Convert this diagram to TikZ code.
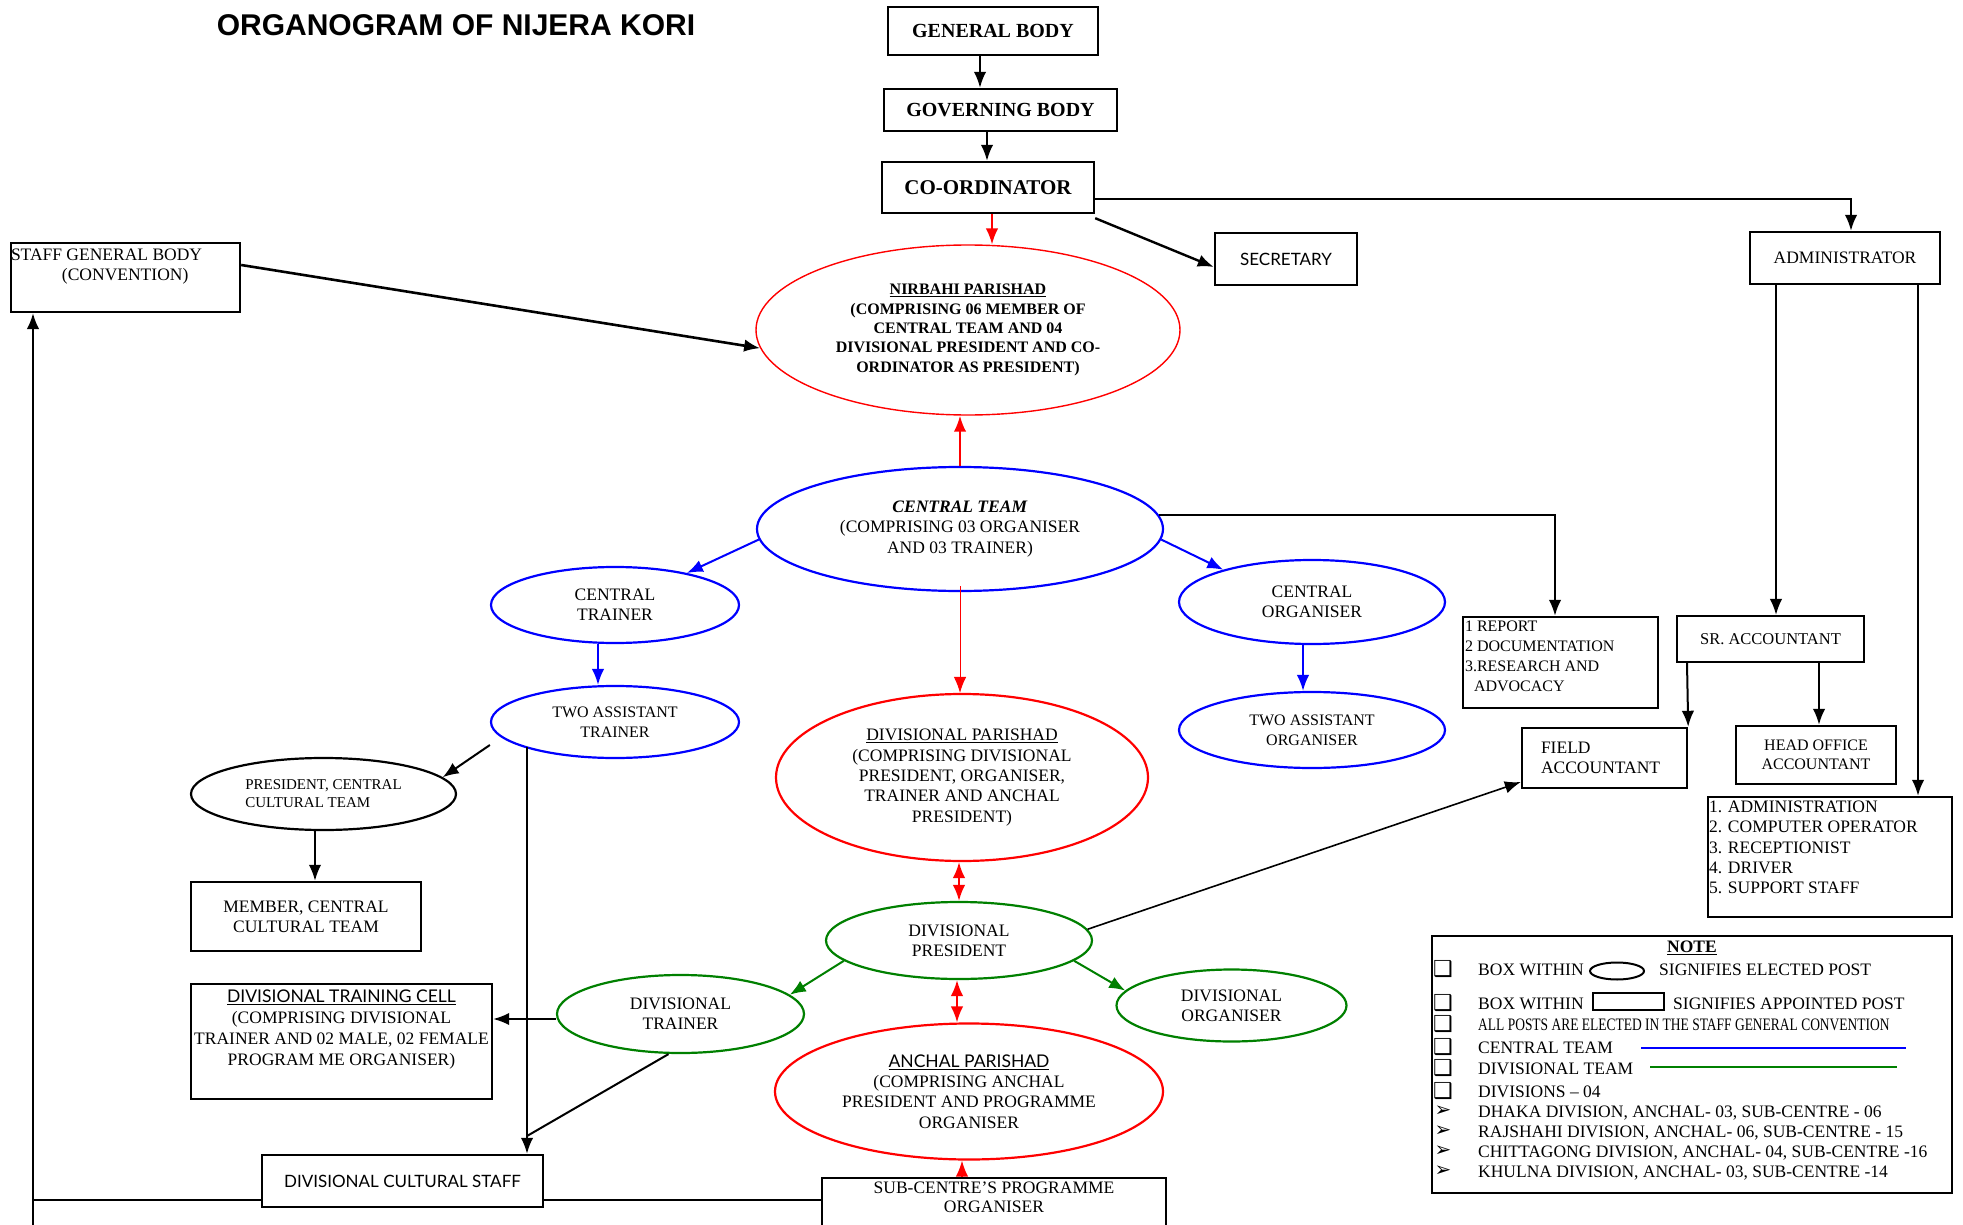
\documentclass[tikz,border=0pt]{standalone}
\usepackage{fontspec}
\setmainfont{Liberation Serif}
\newfontfamily\titlefont{Liberation Sans}
\newfontfamily\decofont{Lato}
\newfontfamily\symfont{DejaVu Sans}
\usetikzlibrary{shapes.geometric, arrows.meta}
\definecolor{ctblue}{RGB}{0,0,255}
\definecolor{dvgreen}{RGB}{0,128,0}
\tikzset{post/.style = {draw, rectangle, line width=2.4pt, fill=white, inner sep=0pt, align=center, font=\fontsize{17.5}{20.3}\selectfont}}
\tikzset{headpost/.style = {post, font=\bfseries\fontsize{20}{24}\selectfont}}
\tikzset{elected/.style = {draw, ellipse, line width=2.2pt, fill=white, inner sep=0pt, align=center, font=\fontsize{17.5}{20.3}\selectfont}}
\tikzset{central/.style = {elected, draw=ctblue}}
\tikzset{divisional/.style = {elected, draw=dvgreen}}
\tikzset{parishad/.style = {elected, draw=red}}
\tikzset{inner/.style = {inner sep=0pt, align=left, font=\fontsize{17.5}{20.3}\selectfont}}
\tikzset{link/.style = {->, line width=2pt}}
\tikzset{redlink/.style = {->, line width=1.6pt, red}}
\tikzset{redboth/.style = {<->, line width=2pt, red}}
\tikzset{bluelink/.style = {->, line width=2pt, ctblue}}
\tikzset{greenlink/.style = {->, line width=2pt, dvgreen}}
\tikzset{notetext/.style = {anchor=base west, inner sep=0pt, font=\fontsize{17.5}{20}\selectfont}}

\begin{document}
\begin{tikzpicture}[x=1pt, y=-1pt, >={Latex[length=16pt,width=12.5pt]}]
  \useasboundingbox (0,0) rectangle (1963,1225);
  \fill[white] (0,0) rectangle (1963,1225);

  \node [font=\titlefont\bfseries\fontsize{30}{34}\selectfont, inner sep=0pt] (title) at (456,25) {ORGANOGRAM OF NIJERA KORI};

  \node [headpost, minimum width=210pt, minimum height=48pt] (gb) at (993,31) {GENERAL BODY};
  \node [headpost, minimum width=233pt, minimum height=42pt] (gov) at (1000.5,110) {GOVERNING BODY};
  \node [headpost, minimum width=212pt, minimum height=51pt, font=\bfseries\fontsize{21}{24}\selectfont] (coord) at (988,187.5) {CO-ORDINATOR};
  \node [post, minimum width=142pt, minimum height=52pt, font=\decofont\fontsize{17}{20}\selectfont] (sec) at (1286,259) {SECRETARY};
  \node [post, minimum width=190pt, minimum height=52pt] (adm) at (1845,258) {ADMINISTRATOR};
  \node [post, minimum width=229pt, minimum height=69pt] (sgb) at (125.5,277.5) {};
  \node [inner, anchor=north west] (sgbtext) at ([xshift=1pt,yshift=-7pt]sgb.north west) {STAFF GENERAL BODY\\\hspace*{51pt}(CONVENTION)};

  \node [parishad, line width=1.4pt, minimum width=424pt, minimum height=170pt, font=\bfseries\fontsize{16}{19.3}\selectfont] (nirbahi) at (968,330)
    {\underline{NIRBAHI PARISHAD}\\(COMPRISING 06 MEMBER OF\\CENTRAL TEAM AND 04\\DIVISIONAL PRESIDENT AND CO-\\ORDINATOR AS PRESIDENT)};
  \node [central, minimum width=406pt, minimum height=124pt] (ct) at (960,529)
    {\textbf{\textit{CENTRAL TEAM}}\\(COMPRISING 03 ORGANISER\\AND 03 TRAINER)};
  \node [central, minimum width=248pt, minimum height=76pt] (ctr) at (615,605) {CENTRAL\\TRAINER};
  \node [central, minimum width=248pt, minimum height=72pt, font=\fontsize{16}{20}\selectfont] (tat) at (615,722) {TWO ASSISTANT\\TRAINER};
  \node [central, minimum width=266pt, minimum height=84pt] (co) at (1312,602) {CENTRAL\\ORGANISER};
  \node [central, minimum width=266pt, minimum height=76pt, font=\fontsize{16}{20}\selectfont] (tao) at (1312,730) {TWO ASSISTANT\\ORGANISER};

  \node [post, minimum width=195pt, minimum height=91pt] (rep) at (1560.5,662.5) {};
  \node [inner, anchor=north west, font=\fontsize{16}{20}\selectfont] (reptext) at ([xshift=3pt,yshift=-5pt]rep.north west) {1 REPORT\\2 DOCUMENTATION\\3.RESEARCH AND\\\hspace*{9pt}ADVOCACY};
  \node [post, minimum width=187pt, minimum height=46pt, font=\fontsize{16.5}{20}\selectfont] (sr) at (1770.5,639) {SR. ACCOUNTANT};
  \node [post, minimum width=165pt, minimum height=60pt] (fa) at (1604.5,758) {};
  \node [inner, anchor=west] (fatext) at ([xshift=20pt]fa.west) {FIELD\\ACCOUNTANT};
  \node [post, minimum width=160pt, minimum height=58pt, font=\fontsize{16}{19}\selectfont] (hoa) at (1816,755) {HEAD OFFICE\\ACCOUNTANT};
  \node [post, minimum width=244pt, minimum height=120pt] (list) at (1830,857) {};
  \node [inner, anchor=north west] (listtext) at ([xshift=2pt,yshift=-5pt]list.north west) {1. ADMINISTRATION\\2. COMPUTER OPERATOR\\3. RECEPTIONIST\\4. DRIVER\\5. SUPPORT STAFF};

  \node [parishad, minimum width=372pt, minimum height=167pt] (dp) at (962,777.5)
    {\underline{DIVISIONAL PARISHAD}\\(COMPRISING DIVISIONAL\\PRESIDENT, ORGANISER,\\TRAINER AND ANCHAL\\PRESIDENT)};
  \node [elected, minimum width=265pt, minimum height=72pt, font=\fontsize{15}{18}\selectfont, align=left] (pcct) at (323.5,794) {PRESIDENT, CENTRAL\\CULTURAL TEAM};
  \node [post, minimum width=230pt, minimum height=69pt] (mcct) at (306,916.5) {MEMBER, CENTRAL\\CULTURAL TEAM};
  \node [post, minimum width=301pt, minimum height=115pt] (dtc) at (341.5,1041.5) {};
  \node [inner, anchor=north, align=center, font=\fontsize{17.5}{21}\selectfont] (dtctext) at ([yshift=-7pt]dtc.north)
    {{\decofont\underline{DIVISIONAL TRAINING CELL}}\\(COMPRISING DIVISIONAL\\TRAINER AND 02 MALE, 02 FEMALE\\PROGRAM ME ORGANISER)};

  \node [divisional, minimum width=266pt, minimum height=77pt] (dpres) at (959,940.5) {DIVISIONAL\\PRESIDENT};
  \node [divisional, minimum width=247pt, minimum height=78pt] (dtr) at (680.5,1014) {DIVISIONAL\\TRAINER};
  \node [divisional, minimum width=230pt, minimum height=72pt] (dorg) at (1231.5,1005.5) {DIVISIONAL\\ORGANISER};
  \node [parishad, minimum width=388pt, minimum height=136pt] (anchal) at (969,1091.5)
    {{\decofont\underline{ANCHAL PARISHAD}}\\(COMPRISING ANCHAL\\PRESIDENT AND PROGRAMME\\ORGANISER};

  \node [post, minimum width=281pt, minimum height=52pt, font=\decofont\fontsize{17}{20}\selectfont] (dcs) at (402.5,1181) {DIVISIONAL CULTURAL STAFF};
  \node [post, minimum width=344pt, minimum height=50pt] (sub) at (994,1203) {};
  \node [inner, anchor=north, align=center, font=\fontsize{17.5}{19}\selectfont] (subtext) at ([yshift=-5pt]sub.north) {SUB-CENTRE'S PROGRAMME\\ORGANISER};

  \coordinate (loopcorner) at (33,1200);
  \coordinate (loopend) at (33,1225);
  \coordinate (drop) at (527,747);
  \coordinate (join) at (527,1136);

  \path[link] ([xshift=-13pt]gb.south) edge ([xshift=-13pt]gb.south |- gov.north);
  \path[link] ([xshift=-13.5pt]gov.south) edge ([xshift=-13.5pt]gov.south |- coord.north);
  \path[redlink] ([xshift=4pt]coord.south) edge ([xshift=4pt]coord.south |- nirbahi.north);
  \path[link, line width=2.4pt] ([yshift=-4pt]coord.south east) edge ([yshift=-8pt]sec.west);
  \draw[link] ([yshift=-11.5pt]coord.east) -| ([xshift=6pt]adm.north);
  \path[link, line width=2.6pt] ([yshift=12.5pt]sgb.east) edge (nirbahi.185);
  \draw[line width=2pt] (loopcorner) -- (loopcorner -| dcs.west);
  \draw[line width=2pt] (loopcorner -| dcs.east) -- (loopcorner -| sub.west);
  \draw[link, line width=1.8pt] (loopend) -- (loopend |- sgb.south);

  \path[redlink, line width=2pt] (ct.north) edge (ct.north |- nirbahi.south);
  \path[redlink, line width=1pt] ([yshift=6pt]ct.south) edge (ct.south |- dp.north);
  \path[bluelink] (ct.183) edge (ctr.24);
  \path[bluelink] (ct.357) edge (co.160);
  \draw[link] (ct.4) -| ([xshift=-5.5pt]rep.north);
  \path[bluelink] ([xshift=-17pt]ctr.south) edge ([xshift=-17pt]ctr.south |- tat.north);
  \path[bluelink] ([xshift=-9pt]co.south) edge ([xshift=-9pt]co.south |- tao.north);

  \path[link] ([yshift=-23pt]tat.west) edge (pcct.8);
  \draw[link] (drop) -- (drop |- dcs.north);
  \draw[line width=2pt] ([xshift=-12pt]dtr.south) -- (join);
  \path[link] ([yshift=-5pt]dtr.west) edge ([yshift=-5pt]dtr.west -| dtc.east);
  \path[link] ([xshift=-8.5pt]pcct.south) edge ([xshift=-8.5pt]pcct.south |- mcct.north);

  \path[redboth] ([xshift=-3pt]dp.south) edge ([xshift=-3pt]dp.south |- dpres.north);
  \path[redboth] ([xshift=-2pt]dpres.south) edge ([xshift=-2pt]dpres.south |- anchal.north);
  \path[redlink] ([xshift=-32pt]sub.north) edge ([xshift=-32pt]sub.north |- anchal.south);
  \path[greenlink] (dpres.190) edge (dtr.10);
  \path[greenlink] (dpres.350) edge (dorg.172);
  \path[link, line width=1.6pt] (dpres.5) edge ([yshift=-24pt]fa.west);

  \path[link, line width=1.6pt] ([xshift=-69pt]adm.south) edge ([xshift=-69pt]adm.south |- sr.north);
  \path[link] ([xshift=73pt]adm.south) edge ([xshift=73pt]adm.south |- list.north);
  \path[link] ([xshift=-83.5pt]sr.south) edge (fa.north east);
  \path[link] ([xshift=48.5pt]sr.south) edge ([xshift=48.5pt]sr.south |- hoa.north);

  \node [post, minimum width=520pt, minimum height=257pt] (note) at (1692,1064.5) {};
  \node [inner, font=\bfseries\fontsize{17.5}{20}\selectfont] (notehead) at (1692,948) {\underline{NOTE}};
  \foreach \y/\t [count=\i] in {969/{BOX WITHIN}, 1003/{BOX WITHIN}, 1024/{\scalebox{0.77}[1]{ALL POSTS ARE ELECTED IN THE STAFF GENERAL CONVENTION}}, 1047/{CENTRAL TEAM}, 1068/{DIVISIONAL TEAM}, 1091/{DIVISIONS -- 04}}
    \node [notetext] (row\i) at (1478,\y+6) {\t};
  \foreach \y/\t [count=\i] in {1111/{DHAKA DIVISION, ANCHAL- 03, SUB-CENTRE - 06}, 1131/{RAJSHAHI DIVISION, ANCHAL- 06, SUB-CENTRE - 15}, 1151/{CHITTAGONG DIVISION, ANCHAL- 04, SUB-CENTRE -16}, 1171/{KHULNA DIVISION, ANCHAL- 03, SUB-CENTRE -14}}
    \node [notetext] (div\i) at (1478,\y+6) {\t};
  \foreach \y [count=\i] in {969, 1003, 1024, 1047, 1068, 1091}
    \node [inner, font=\symfont\bfseries\fontsize{22}{24}\selectfont] (box\i) at (1443,\y) {❑};
  \foreach \y [count=\i] in {1111, 1131, 1151, 1171}
    \node [inner, font=\symfont\fontsize{20}{22}\selectfont] (tip\i) at (1443,\y) {➢};
  \node [draw, ellipse, line width=2pt, minimum width=54pt, minimum height=17pt, inner sep=0pt] (elsample) at (1617,971) {};
  \node [notetext] (elected) at (1659,975) {SIGNIFIES ELECTED POST};
  \node [draw, line width=2pt, minimum width=71pt, minimum height=17pt, inner sep=0pt] (boxsample) at (1628.5,1001.5) {};
  \node [notetext] (appointed) at (1673,1009) {SIGNIFIES APPOINTED POST};
  \draw[ctblue, line width=2pt] (1641,1048) -- (1906,1048);
  \draw[dvgreen, line width=2pt] (1650,1067) -- (1897,1067);
\end{tikzpicture}
\end{document}
